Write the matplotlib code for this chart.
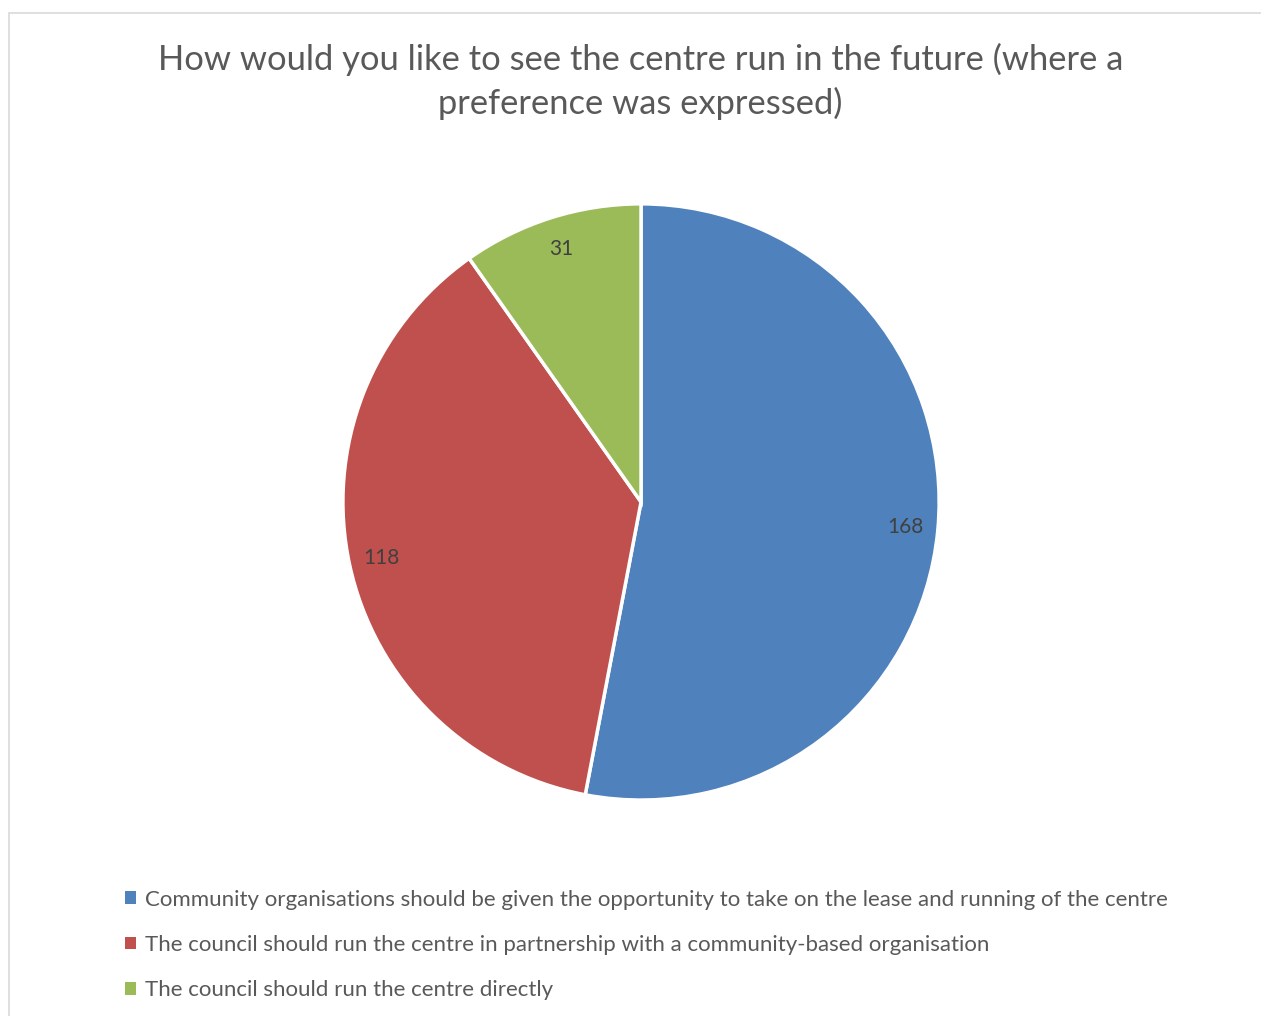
import matplotlib
matplotlib.use('Agg')
import matplotlib.pyplot as plt
from matplotlib.patches import Rectangle, Patch

title = 'How would you like to see the centre run in the future (where a\npreference was expressed)'
categories = [
    'Community organisations should be given the opportunity to take on the lease and running of the centre',
    'The council should run the centre in partnership with a community-based organisation',
    'The council should run the centre directly',
]
counts = [168, 118, 31]
colors = ['#4F81BD', '#C0504D', '#9BBB59']

plt.rcParams['font.family'] = ['Lato', 'DejaVu Sans']
text_col = '#595959'

fig = plt.figure(figsize=(12.61, 10.16), dpi=100)
fig.patches.append(Rectangle((9 / 1261, -0.1), 1.2, 1 - 13 / 1016 + 0.1, transform=fig.transFigure,
                             fill=False, edgecolor='#D9D9D9', linewidth=1.2))

ax = fig.add_axes([0.2736, 0.2146, 0.4695, 0.5827])
total = sum(counts)
wedges, texts, autotexts = ax.pie(
    counts, colors=colors, startangle=90, counterclock=False,
    autopct=lambda p: '%d' % round(p * total / 100), pctdistance=0.89,
    wedgeprops=dict(edgecolor='white', linewidth=2.5),
    textprops=dict(color='#404040', fontsize=15))
ax.set_xlim(-0.993, 0.993)
ax.set_ylim(-0.993, 0.993)
ax.set_aspect('equal')

fig.text(0.508, 0.958, title, ha='center', va='top', fontsize=24.8, color=text_col,
         linespacing=1.42)

handles = [Patch(facecolor=c, edgecolor='none') for c in colors]
fig.legend(handles, categories, loc='upper left', bbox_to_anchor=(0.0832, 0.144),
           frameon=False, fontsize=16, labelcolor=text_col, handlelength=0.5,
           handleheight=0.5, handletextpad=0.4, labelspacing=1.14)

fig.savefig('out.png', dpi=100, facecolor='white')
